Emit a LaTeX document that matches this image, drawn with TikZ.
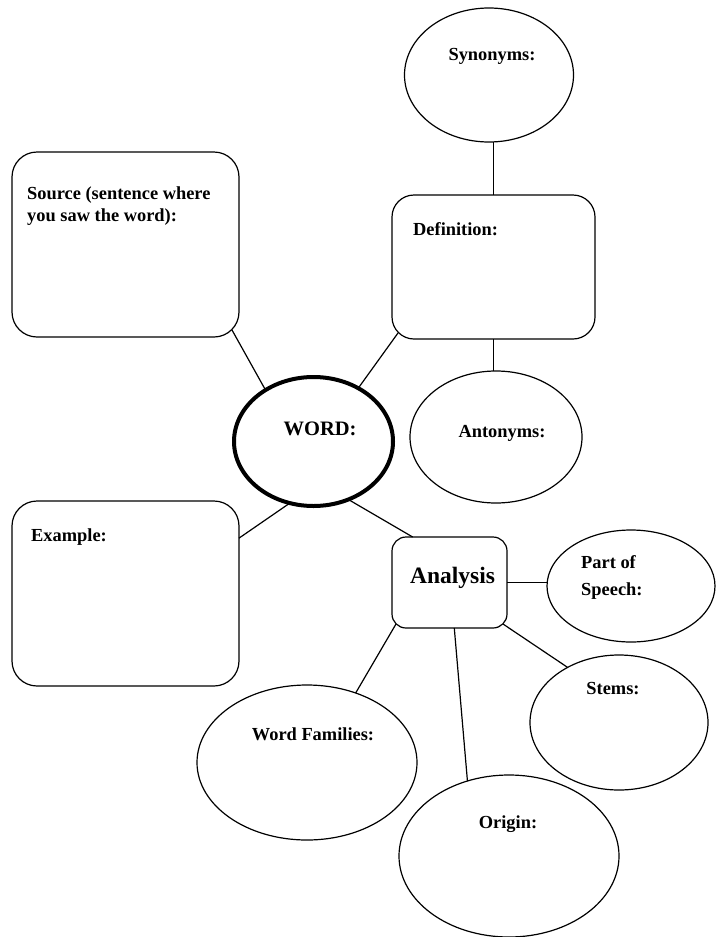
\documentclass[tikz,border=0pt]{standalone}
\usepackage{fontspec}
\setmainfont{Liberation Serif}
\usetikzlibrary{calc,positioning,shapes.geometric}

\begin{document}
\begin{tikzpicture}[
      x=1pt,y=-1pt,
      bubble/.style={ellipse,draw=black,line width=1.2pt,inner sep=0pt,outer sep=0pt},
      card/.style={rectangle,draw=black,line width=1.2pt,rounded corners=25pt,inner sep=0pt,outer sep=0pt},
      tag/.style={inner sep=0pt,font=\bfseries\fontsize{18.4}{22}\selectfont,align=left},
      link/.style={line width=1.2pt}
    ]
    \useasboundingbox (0,0) rectangle (716,937);
    % shapes
    \node[bubble,minimum width=169pt,minimum height=134pt] (syn) at (489,75) {};
    \node[card,rounded corners=22pt,minimum width=203pt,minimum height=144pt] (defn) at (493.5,267) {};
    \node[card,minimum width=227pt,minimum height=185pt] (source) at (125.5,244.5) {};
    \node[bubble,line width=4pt,minimum width=159pt,minimum height=129pt] (word) at (313.5,441.5) {};
    \node[bubble,minimum width=172pt,minimum height=132pt] (ant) at (496,437) {};
    \node[card,minimum width=227pt,minimum height=185pt] (example) at (125.5,593.5) {};
    \node[card,rounded corners=14pt,minimum width=115pt,minimum height=91pt] (analysis) at (449.5,582.5) {};
    \node[bubble,minimum width=168pt,minimum height=112pt] (pos) at (631,586) {};
    \node[bubble,minimum width=178pt,minimum height=135pt] (stems) at (619,722.5) {};
    \node[bubble,minimum width=220pt,minimum height=155pt] (families) at (307,762.5) {};
    \node[bubble,minimum width=220pt,minimum height=162pt] (origin) at (509,856) {};
    % texts (base = last line)
    \node[tag,anchor=base] (synText) at (492,60) {Synonyms:};
    \node[tag,anchor=base west] (sourceText) at (27,221) {Source (sentence where\\you saw the word):};
    \node[tag,anchor=base west] (defnText) at (413,235) {Definition:};
    \node[tag,anchor=base,font=\bfseries\fontsize{20.5}{24}\selectfont] (wordText) at (320,435) {WORD:};
    \node[tag,anchor=base] (antText) at (502,437) {Antonyms:};
    \node[tag,anchor=base west] (exampleText) at (31,541) {Example:};
    \node[tag,anchor=base,font=\bfseries\fontsize{23.5}{28}\selectfont] (analysisText) at (452.5,583) {Analysis};
    \node[tag,anchor=base west] (posText) at (581,595) {Part of\\[5pt]Speech:};
    \node[tag,anchor=base] (stemsText) at (613,694) {Stems:};
    \node[tag,anchor=base] (familiesText) at (313,740) {Word Families:};
    \node[tag,anchor=base] (originText) at (508,828) {Origin:};
    % connectors
    \draw[link] (defn.north) -- (defn.north |- syn.south);
    \draw[link] (defn.south) -- (defn.south |- ant.north);
    \draw[link] ($(source.south east)+(-7,-7)$) -- (word.133);
    \draw[link] ($(defn.south west)+(6,-6)$) -- (word.50);
    \draw[link] (word.249) -- (example.26);
    \draw[link] (word.-59) -- (analysis.129);
    \draw[link] (analysis.east) -- (analysis.east -| pos.west);
    \draw[link] ($(analysis.south east)+(-4,-4)$) -- (stems.133);
    \draw[link] ($(analysis.south west)+(4,-4)$) -- (families.55);
    \draw[link] (analysis.-84) -- (origin.119);
  \end{tikzpicture}
\end{document}
